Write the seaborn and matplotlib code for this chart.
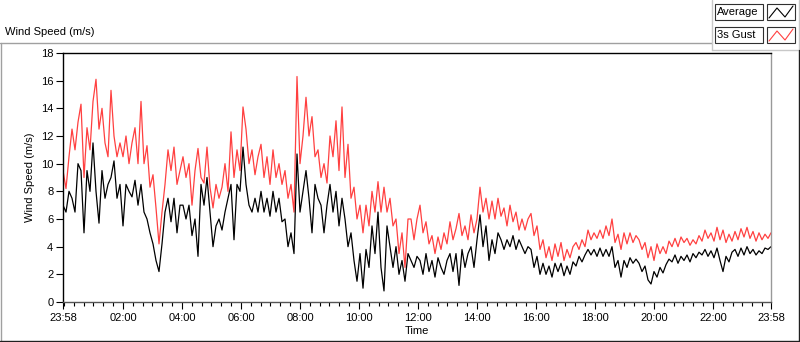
import numpy as np
import pandas as pd
import matplotlib
matplotlib.use("Agg")
import matplotlib.pyplot as plt
from matplotlib.lines import Line2D
from matplotlib.patches import Rectangle
import seaborn as sns

# ---------------- data ----------------
gust = [
    9.5, 8.2, 10.5, 12.5, 11.0, 13.0, 14.3, 9.0, 12.6, 11.0, 14.5, 16.1, 12.5, 14.0, 11.5, 10.5, 15.3, 12.0, 10.5, 11.5,
    10.5, 12.0, 10.0, 11.5, 12.6, 10.0, 14.5, 10.0, 11.3, 8.3, 9.2, 6.8, 4.2, 6.5, 8.5, 11.0, 9.5, 11.2, 8.5, 9.5,
    10.5, 9.0, 10.0, 7.0, 9.5, 11.1, 9.0, 8.6, 11.2, 8.3, 6.8, 8.5, 7.5, 8.3, 10.0, 8.0, 12.3, 9.0, 11.0, 9.5,
    14.1, 12.5, 10.0, 11.0, 9.2, 10.5, 11.4, 9.0, 10.5, 8.5, 11.0, 9.0, 10.0, 8.5, 9.5, 7.5, 8.5, 6.5,
    16.3, 10.0, 12.0, 14.8, 12.0, 13.4, 10.5, 11.0, 9.0, 10.0, 8.6, 12.0, 10.5, 13.1, 9.5, 14.1, 9.0, 11.4, 7.5, 8.3,
    6.0, 7.0, 5.0, 7.0, 5.5, 8.0, 6.5, 8.7, 6.5, 8.3, 6.5, 7.5, 5.5, 6.0, 3.5, 5.0, 2.5, 6.0,
    6.0, 4.5, 6.0, 7.0, 5.0, 5.8, 4.2, 4.8, 3.5, 4.7, 3.8, 5.0, 4.2, 5.8, 4.5, 5.3, 6.4, 4.8, 5.5, 4.5,
    6.3, 5.0, 6.0, 8.3, 6.5, 7.5, 6.0, 7.3, 6.0, 7.5, 6.2, 6.8, 5.5, 7.0, 5.8, 6.5, 5.2, 6.0,
    5.2, 6.0, 6.4, 4.8, 5.5, 3.8, 4.5, 3.2, 4.0, 3.0, 4.2, 3.3, 4.3, 3.0, 3.8, 3.2, 4.0, 4.3, 3.8, 4.5,
    4.0, 5.2, 4.5, 5.0, 4.6, 5.2, 4.6, 5.5, 4.8, 6.0, 4.3, 4.9, 3.8, 5.0, 4.2, 5.0, 4.3, 4.8,
    4.5, 3.8, 4.3, 3.2, 4.0, 3.0, 4.2, 3.5, 4.0, 3.5, 4.4, 4.0, 4.6, 4.0, 4.7, 4.3, 4.6, 4.1, 4.5, 4.2,
    4.8, 4.4, 5.2, 4.6, 5.0, 4.4, 5.4, 4.5, 5.2, 4.3, 4.9, 4.4, 5.1, 4.5, 5.3, 4.7, 5.4, 4.6, 5.1, 4.4,
    5.0, 4.5, 4.9, 4.6, 5.0,
]
average = [
    7.0, 6.5, 8.0, 7.5, 6.5, 10.0, 9.5, 5.0, 9.5, 8.0, 11.5, 8.0, 5.7, 9.5, 7.5, 8.5, 9.0, 10.2, 7.5, 8.5,
    5.5, 8.5, 8.0, 7.6, 8.8, 7.0, 8.5, 6.5, 6.0, 5.0, 4.2, 3.0, 2.2, 4.2, 6.5, 7.5, 5.8, 7.5, 5.0, 7.0,
    7.0, 6.0, 7.0, 4.8, 6.0, 3.3, 8.5, 7.0, 9.0, 6.5, 4.0, 5.5, 6.0, 5.2, 6.5, 7.5, 8.5, 4.5, 8.5, 8.0,
    11.2, 8.5, 7.0, 6.5, 7.5, 6.5, 8.0, 6.5, 7.5, 6.2, 8.0, 6.5, 7.5, 5.8, 6.0, 4.0, 5.0, 3.5,
    10.7, 6.5, 8.0, 9.5, 7.5, 5.0, 8.5, 7.5, 7.0, 5.0, 7.0, 8.5, 6.5, 8.0, 5.5, 7.5, 6.0, 4.0, 5.0, 3.0,
    1.5, 3.5, 1.0, 3.8, 2.5, 5.5, 3.5, 6.5, 2.5, 0.8, 5.5, 4.0, 2.5, 4.0, 2.0, 3.0, 1.5, 3.5,
    3.0, 2.5, 3.3, 3.0, 2.0, 3.5, 2.2, 3.0, 1.8, 3.2, 2.5, 2.0, 3.0, 3.5, 2.2, 3.5, 1.2, 3.8, 2.5, 3.5,
    4.0, 2.5, 4.5, 6.3, 4.0, 5.5, 3.0, 4.5, 3.5, 5.0, 4.5, 3.8, 4.5, 4.0, 4.8, 3.8, 4.5, 4.0,
    3.5, 4.0, 3.8, 2.5, 3.3, 2.0, 2.8, 2.0, 2.6, 1.8, 2.8, 2.2, 2.8, 1.9, 2.6, 2.0, 2.9, 2.6, 3.3, 2.9,
    3.4, 3.8, 3.4, 3.8, 3.3, 3.9, 3.3, 3.8, 3.3, 4.0, 2.5, 3.0, 1.8, 3.0, 2.5, 3.2, 2.8, 3.1,
    2.8, 2.2, 2.6, 1.6, 1.3, 2.2, 1.8, 2.5, 2.1, 2.7, 3.1, 2.9, 3.4, 2.8, 3.3, 3.0, 3.4, 2.9, 3.5, 3.2,
    3.6, 3.4, 3.8, 3.3, 3.7, 3.2, 3.9, 3.0, 2.2, 3.3, 2.9, 3.6, 3.8, 3.3, 3.9, 3.4, 4.0, 3.5, 3.8, 3.4,
    3.7, 3.5, 3.9, 3.8, 4.0,
]
series_names = ["Average", "3s Gust"]
y_ticks = [0, 2, 4, 6, 8, 10, 12, 14, 16, 18]
x_tick_labels = ["23:58", "02:00", "04:00", "06:00", "08:00", "10:00", "12:00",
                 "14:00", "16:00", "18:00", "20:00", "22:00", "23:58"]
start_time = "2021-01-01 23:58"
end_time = "2021-01-02 23:58"

# ---------------- style ----------------
sns.set_theme(style="white")
plt.rcParams['font.family'] = ['Liberation Sans', 'DejaVu Sans']

W, H = 800, 342
def fx(x):
    return x / W
def fy(y):
    return 1 - y / H

fig = plt.figure(figsize=(8, 3.42), dpi=100, facecolor="white")
ax = fig.add_axes([fx(63), fy(302), (771 - 63) / W, (302 - 53) / H])

t0 = pd.Timestamp(start_time)
t1 = pd.Timestamp(end_time)
df_g = pd.DataFrame({"time": pd.date_range(t0, t1, periods=len(gust)), "speed": gust})
df_a = pd.DataFrame({"time": pd.date_range(t0, t1, periods=len(average)), "speed": average})

sns.lineplot(data=df_g, x="time", y="speed", ax=ax, color="#ff4040", linewidth=0.9)
sns.lineplot(data=df_a, x="time", y="speed", ax=ax, color="black", linewidth=0.9)

ax.set_xlim(t0, t1)
ax.set_ylim(0, 18)
ax.set_yticks(y_ticks)
ax.set_yticklabels([str(v) for v in y_ticks])

majors = [t0] + list(pd.date_range("2021-01-02 02:00", "2021-01-02 22:00", freq="2h")) + [t1]
ax.set_xticks(majors)
ax.set_xticklabels(x_tick_labels)
minors = [t for t in pd.date_range("2021-01-02 00:00", "2021-01-02 23:40", freq="20min") if t not in majors]
ax.set_xticks(minors, minor=True)

ax.tick_params(axis='x', which='major', bottom=True, length=5, width=0.8, color='black',
               labelsize=8, pad=3, labelcolor='black')
ax.tick_params(axis='x', which='minor', bottom=True, length=3, width=0.8, color='black')
ax.tick_params(axis='y', which='major', left=True, length=5, width=0.8, color='black',
               labelsize=8, pad=2, labelcolor='black')

ax.set_xlabel("Time", fontsize=8, labelpad=2, color='black')
ax.set_ylabel("Wind Speed (m/s)", fontsize=8, labelpad=4, color='black')

for side, col in [("top", "black"), ("left", "black"), ("bottom", "#555555"), ("right", "#999999")]:
    ax.spines[side].set_visible(True)
    ax.spines[side].set_color(col)
    ax.spines[side].set_linewidth(1.0)
ax.grid(False)

# ---------------- panel decorations ----------------
def fline(xs, ys, color, lw=1.0):
    fig.add_artist(Line2D([fx(v) for v in xs], [fy(v) for v in ys], color=color, lw=lw,
                          transform=fig.transFigure))

fline([0, 712], [42.5, 42.5], "#a0a0a0")
fline([0.5, 0.5], [42.5, 342], "#a0a0a0")
fline([712, 712], [0, 49.5], "#c8c8c8")
fline([712, 798.5], [49.5, 49.5], "#c8c8c8")
fline([798.5, 798.5], [0, 49.5], "#c8c8c8")
fline([798.5, 798.5], [49.5, 342], "#202020")
fline([0, 799], [340.5, 340.5], "#202020")

fig.text(fx(5), fy(32), "Wind Speed (m/s)", fontsize=8, va='center', ha='left', color='black')

# legend
legend_colors = ["black", "#ff4040"]
for i, (name, col) in enumerate(zip(series_names, legend_colors)):
    top = 4 + i * 23
    fig.add_artist(Rectangle((fx(715), fy(top + 16)), 48 / W, 16 / H, transform=fig.transFigure,
                             facecolor="white", edgecolor="#303030", lw=0.8))
    fig.add_artist(Rectangle((fx(767), fy(top + 16)), 28 / W, 16 / H, transform=fig.transFigure,
                             facecolor="white", edgecolor="#303030", lw=0.8))
    fig.text(fx(717), fy(top + 8), name, fontsize=8, va='center', ha='left', color='black')
    fline([769, 777, 785, 793], [top + 14, top + 4, top + 13, top + 2], col, lw=0.8)

fig.savefig("out.png", dpi=100, facecolor="white")
